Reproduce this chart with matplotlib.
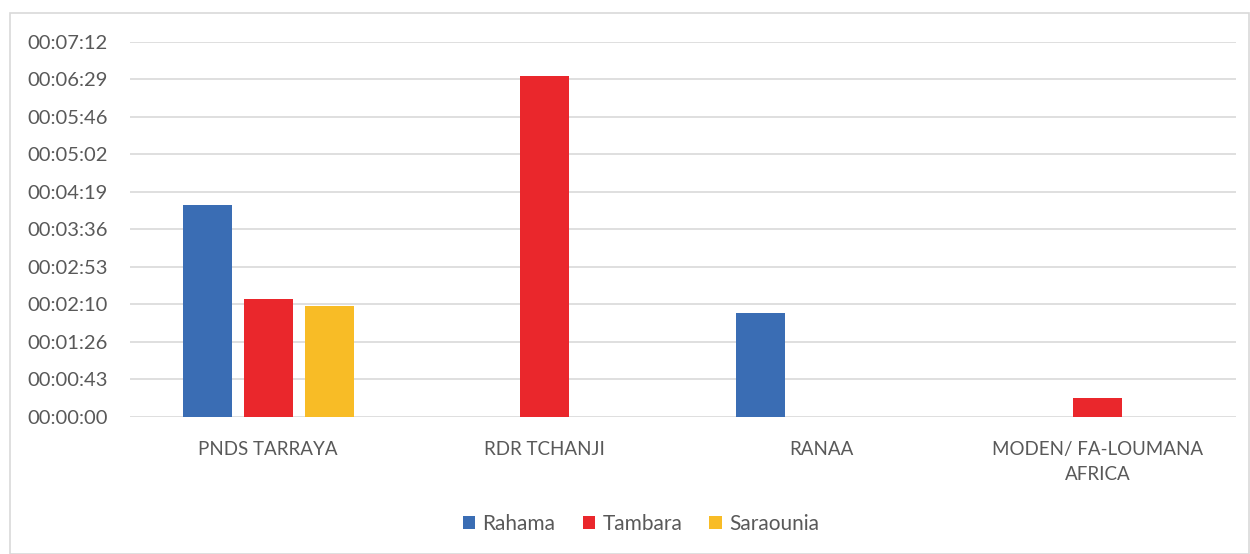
import matplotlib
matplotlib.use('Agg')
import matplotlib.pyplot as plt
import matplotlib.ticker as mticker
from matplotlib.patches import Rectangle
import numpy as np

plt.rcParams['font.family'] = ['Lato', 'DejaVu Sans']

# données (durées en secondes)
categories = ["PNDS TARRAYA", "RDR TCHANJI", "RANAA", "MODEN/ FA-LOUMANA\nAFRICA"]
series = ["Rahama", "Tambara", "Saraounia"]
rahama = [244, 0, 120, 0]
tambara = [136, 392, 0, 22]
saraounia = [128, 0, 0, 0]
values = [rahama, tambara, saraounia]
colors = ['#3A6DB4', '#EA272C', '#F8BC26']

yticks = np.arange(0, 433, 43.2)

def fmt_time(s, pos=None):
    s = int(round(s))
    return f"{s // 3600:02d}:{(s % 3600) // 60:02d}:{s % 60:02d}"

fig = plt.figure(figsize=(12.5, 5.54), dpi=100)
fig.patch.set_facecolor('white')
fig.patches.append(Rectangle((10 / 1250, 0), 1 - 10 / 1250 - 0.0005, 1 - 13 / 554,
                             transform=fig.transFigure, fill=False,
                             edgecolor='#D9D9D9', linewidth=1.2))

ax = fig.add_axes([130 / 1250, 1 - 417 / 554, (1236 - 130) / 1250, (417 - 41.7) / 554])
x = np.arange(len(categories))
w = 0.177
step = 0.22
for i, (name, vals) in enumerate(zip(series, values)):
    ax.bar(x + (i - 1) * step, vals, width=w, color=colors[i], label=name, zorder=3)

ax.set_xlim(-0.5, len(categories) - 0.5)
ax.set_ylim(0, 432)
ax.set_yticks(yticks)
ax.yaxis.set_major_formatter(mticker.FuncFormatter(fmt_time))
ax.set_xticks(x)
ax.set_xticklabels(categories, linespacing=1.6)
ax.grid(axis='y', color='#D9D9D9', linewidth=1.2, zorder=0)
for sp in ax.spines.values():
    sp.set_visible(False)
ax.tick_params(axis='both', length=0, colors='#595959')
ax.tick_params(axis='y', pad=16, labelsize=14.5)
ax.tick_params(axis='x', pad=17, labelsize=13.5)

leg = fig.legend(loc='center', bbox_to_anchor=(641 / 1250, 1 - 524 / 554), ncol=3,
                 frameon=False, fontsize=15, handlelength=0.6, handleheight=0.6,
                 handletextpad=0.35, columnspacing=1.3)
for t in leg.get_texts():
    t.set_color('#595959')

plt.savefig('out.png', dpi=100)
